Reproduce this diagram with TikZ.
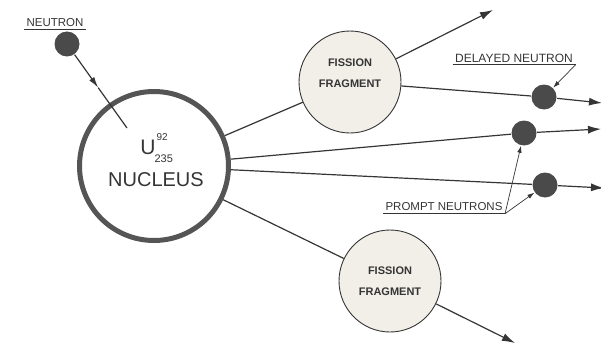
\documentclass[tikz,border=0pt]{standalone}
\usepackage{fontspec}
\setmainfont{Liberation Sans}
\usetikzlibrary{arrows.meta,positioning,calc}
\definecolor{inkgray}{HTML}{353535}
\definecolor{ballgray}{HTML}{4A4A4A}
\definecolor{ringgray}{HTML}{555555}
\definecolor{fragfill}{HTML}{F1EFE8}

\begin{document}
\begin{tikzpicture}[x=1pt, y=-1pt, color=inkgray, line width=1.2pt, >={Latex[length=13pt,width=8pt]}]
                \tikzstyle{ball}=[circle, fill=ballgray, minimum size=25pt, inner sep=0pt]
                \tikzstyle{fragment}=[circle, draw=inkgray, line width=0.9pt, fill=fragfill, minimum size=102pt, inner sep=0pt, align=center, text=inkgray, font=\fontsize{11}{21}\selectfont\bfseries]
                \tikzstyle{tag}=[inner sep=2pt, font=\fontsize{11.5}{13}\selectfont]
                \tikzstyle{leader}=[->, line width=0.7pt, >={Latex[length=7pt,width=4.5pt]}]
                \useasboundingbox (0,0) rectangle (601,345);

                % nucleus and its text
                \node[circle, draw=ringgray, line width=5pt, fill=white, minimum size=149pt, inner sep=0pt] (nucleus) at (154,166) {};
                \node[font=\fontsize{21}{21}\selectfont] (uname) at (148,147) {U};
                \node[font=\fontsize{10}{10}\selectfont, anchor=base west, inner sep=0pt] (znum) at (156,140) {92};
                \node[font=\fontsize{11}{11}\selectfont, anchor=base west, inner sep=0pt] (anum) at (154,162) {235};
                \node[font=\fontsize{20}{20}\selectfont] (nuctext) at (156,180) {NUCLEUS};

                % fragments and neutrons
                \node[fragment] (fragup)  at (350,82)  {FISSION\\FRAGMENT\\[-3pt]};
                \node[fragment] (fraglow) at (390,281) {FISSION\\FRAGMENT};
                \node[ball] (neutron) at (67,44)   {};
                \node[ball] (delayed) at (544,97)  {};
                \node[ball] (prompta) at (524,133) {};
                \node[ball] (promptb) at (545,185) {};

                % free ends
                \coordinate (hit)    at (127,128);
                \coordinate (mid)    at ($(neutron)!0.52!(hit)$);
                \coordinate (upout)  at (493,10);
                \coordinate (lowout) at (515,343);
                \coordinate (delout) at (602,103);
                \coordinate (paout)  at (601,129);
                \coordinate (pbout)  at (604,188);

                \draw[->, >={Latex[length=11pt,width=6pt]}] (neutron) -- (mid);
                \draw (mid) -- (hit);

                \path
                (nucleus) edge  (fragup)
                (nucleus) edge  (prompta)
                (nucleus) edge  (promptb)
                (nucleus) edge  (fraglow)
                (fragup)  edge  (delayed)
                (fragup)  edge[->]  (upout)
                (delayed) edge[->]  (delout)
                (prompta) edge[->]  (paout)
                (promptb) edge[->]  (pbout)
                (fraglow) edge[->]  (lowout);

                % labels
                \node[tag] (neutronlbl) at (55,23)   {NEUTRON};
                \node[tag, font=\fontsize{12}{13}\selectfont] (delayedlbl) at (514,58) {DELAYED NEUTRON};
                \node[tag] (promptlbl)  at (444,207) {PROMPT NEUTRONS};
                \draw[line width=0.9pt] (neutronlbl.south west) -- (neutronlbl.south east);
                \draw[line width=0.9pt] (delayedlbl.south west) -- (delayedlbl.south east);
                \draw[line width=0.9pt] (promptlbl.south west) -- (promptlbl.south east);
                \draw[leader] (delayedlbl.south east) -- (delayed);
                \draw[leader] (promptlbl.south east) -- (prompta);
                \draw[leader] (promptlbl.south east) -- (promptb);
            \end{tikzpicture}
\end{document}
